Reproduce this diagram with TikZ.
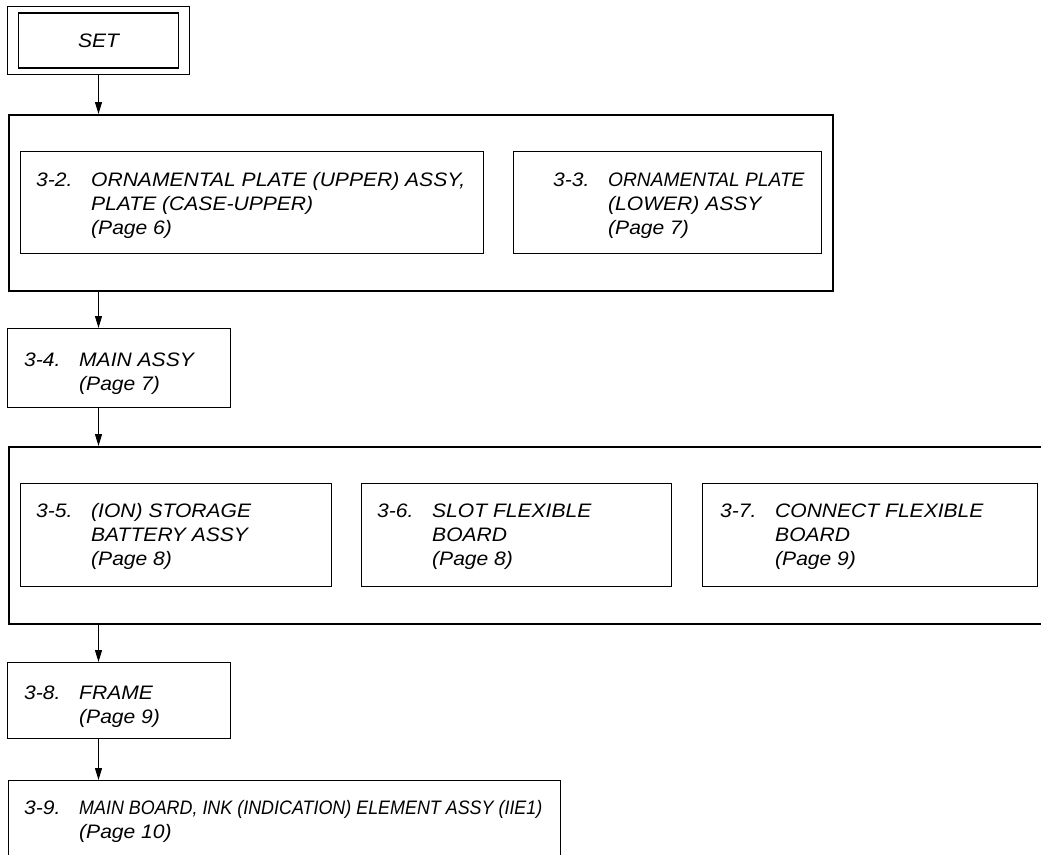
\documentclass[tikz,border=0pt]{standalone}
\usepackage{fontspec}
\usepackage{graphicx}
\setmainfont{Liberation Sans}[FakeStretch=1.08]
\usetikzlibrary{arrows.meta}
\tikzset{
  grpbox/.style={draw, line width=2pt, inner sep=0pt, anchor=north west},
  partbox/.style={draw, line width=1.2pt, inner sep=0pt, anchor=north west},
  partlbl/.style={inner sep=0pt, anchor=north west, font=\fontsize{19.5}{24}\selectfont\itshape},
  arr/.style={line width=1pt, -{Triangle[length=12pt,width=7pt]}}
}
\newcommand{\partlines}[2]{\begin{tabular}{@{}p{55pt}@{}l@{}}#1 & #2\end{tabular}}
\begin{document}
\begin{tikzpicture}[x=1pt,y=-1pt]
            \useasboundingbox (0,0) rectangle (1041,854);
            \clip (0,0) rectangle (1041,854);
            % SET (double frame)
            \node (setout) [draw, line width=1pt, inner sep=0pt, anchor=north west, minimum width=182pt, minimum height=68pt] at (7,6) {};
            \node (set) [draw, line width=1.8pt, inner sep=0pt, minimum width=160pt, minimum height=55pt, font=\fontsize{19.5}{24}\selectfont\itshape] at (setout.center) {SET};
            % first group
            \node (grp1) [grpbox, minimum width=824pt, minimum height=176pt] at (8,114) {};
            \node (b32) [partbox, minimum width=463pt, minimum height=102pt] at (20,151) {};
            \node (t32) [partlbl] at ([xshift=16pt, yshift=-18pt]b32.north west) {\partlines{3-2.}{ORNAMENTAL PLATE (UPPER) ASSY,\\ & PLATE (CASE-UPPER)\\ & (Page 6)}};
            \node (b33) [partbox, minimum width=308pt, minimum height=102pt] at (513,151) {};
            \node (t33) [partlbl] at ([xshift=40pt, yshift=-18pt]b33.north west) {\partlines{3-3.}{\scalebox{0.91}[1]{ORNAMENTAL PLATE}\\ & (LOWER) ASSY\\ & (Page 7)}};
            % main assy
            \node (b34) [partbox, minimum width=223pt, minimum height=79pt] at (7,328) {};
            \node (t34) [partlbl] at ([xshift=17pt, yshift=-21pt]b34.north west) {\partlines{3-4.}{MAIN ASSY\\ & (Page 7)}};
            % second group (runs out on the right)
            \node (grp2) [grpbox, minimum width=1060pt, minimum height=177pt] at (8,446) {};
            \node (b35) [partbox, minimum width=311pt, minimum height=103pt] at (20,483) {};
            \node (t35) [partlbl] at ([xshift=16pt, yshift=-17pt]b35.north west) {\partlines{3-5.}{(ION) STORAGE\\ & BATTERY ASSY\\ & (Page 8)}};
            \node (b36) [partbox, minimum width=310pt, minimum height=103pt] at (361,483) {};
            \node (t36) [partlbl] at ([xshift=16pt, yshift=-17pt]b36.north west) {\partlines{3-6.}{SLOT FLEXIBLE\\ & BOARD\\ & (Page 8)}};
            \node (b37) [partbox, minimum width=335pt, minimum height=103pt] at (702,483) {};
            \node (t37) [partlbl] at ([xshift=18pt, yshift=-17pt]b37.north west) {\partlines{3-7.}{CONNECT FLEXIBLE\\ & BOARD\\ & (Page 9)}};
            % frame
            \node (b38) [partbox, minimum width=223pt, minimum height=76pt] at (7,662) {};
            \node (t38) [partlbl] at ([xshift=17pt, yshift=-20pt]b38.north west) {\partlines{3-8.}{FRAME\\ & (Page 9)}};
            % main board (runs out at the bottom)
            \node (b39) [partbox, minimum width=552pt, minimum height=100pt] at (8,780) {};
            \node (t39) [partlbl] at ([xshift=16pt, yshift=-17pt]b39.north west) {\partlines{3-9.}{\scalebox{0.85}[1]{MAIN BOARD, INK (INDICATION) ELEMENT ASSY (IIE1)}\\ & (Page 10)}};
            % arrows
            \draw [arr] (setout.south) -- (setout.south |- grp1.north);
            \draw [arr] (setout.south |- grp1.south) -- (setout.south |- b34.north);
            \draw [arr] (setout.south |- b34.south) -- (setout.south |- grp2.north);
            \draw [arr] (setout.south |- grp2.south) -- (setout.south |- b38.north);
            \draw [arr] (setout.south |- b38.south) -- (setout.south |- b39.north);
        \end{tikzpicture}
\end{document}
